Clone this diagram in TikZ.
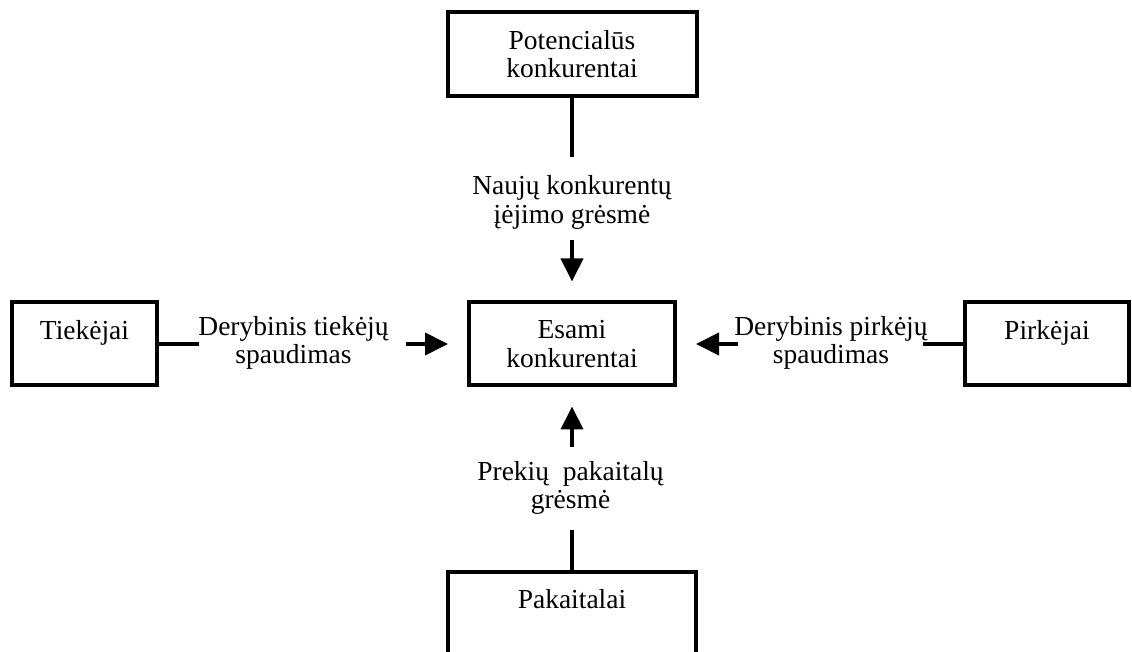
\documentclass[tikz,border=0pt]{standalone}
\usepackage{fontspec}
\setmainfont{Liberation Serif}
\usetikzlibrary{arrows.meta}
\begin{document}
\begin{tikzpicture}[x=0.5pt, y=-0.5pt,
  box/.style={draw, line width=2pt, align=center, font=\fontsize{13.75pt}{14.25pt}\selectfont},
  lbl/.style={align=center, inner sep=0pt, font=\fontsize{13.75pt}{14.25pt}\selectfont},
  link/.style={line width=2pt},
  arr/.style={line width=2pt, -{Triangle[length=11.5pt, width=11pt]}, shorten >=9.5pt}]
\useasboundingbox (0,0) rectangle (1132,652);
\clip (0,0) rectangle (1132,652);
\node[box, minimum width=124.5pt, minimum height=42pt] (pot) at (572,54){Potencialūs\\konkurentai};
\node[box, minimum width=103pt, minimum height=41.5pt] (esa) at (572,344){Esami\\konkurentai};
\node[box, minimum width=72.5pt, minimum height=41.5pt] (tie) at (84.5,344){Tiekėjai\\\mbox{}};
\node[box, minimum width=82pt, minimum height=41.5pt] (pir) at (1047,344){Pirkėjai\\\mbox{}};
\node[box, minimum width=124pt, minimum height=41.5pt] (pak) at (572,613.5){Pakaitalai\\\mbox{}};
\node[lbl] (lnau) at (572,202.5){Naujų konkurentų\\įėjimo grėsmė};
\node[lbl] (ltie) at (293.5,343){Derybinis tiekėjų\\spaudimas};
\node[lbl] (lpir) at (831,343){Derybinis pirkėjų\\spaudimas};
\node[lbl] (lpak) at (570.5,488){Prekių~~pakaitalų\\grėsmė};
\coordinate (pot1) at (572,157);
\coordinate (pot2) at (572,240);
\coordinate (tie1) at (199,344);
\coordinate (tie2) at (406,344);
\coordinate (pir1) at (923,344);
\coordinate (pir2) at (738,344);
\coordinate (pak1) at (572,530);
\coordinate (pak2) at (572,447);
\draw[link](pot) -- (pot1);
\draw[arr](pot2) -- (esa);
\draw[link](tie) -- (tie1);
\draw[arr](tie2) -- (esa);
\draw[link](pir) -- (pir1);
\draw[arr](pir2) -- (esa);
\draw[link](pak) -- (pak1);
\draw[arr](pak2) -- (esa);
\end{tikzpicture}
\end{document}
